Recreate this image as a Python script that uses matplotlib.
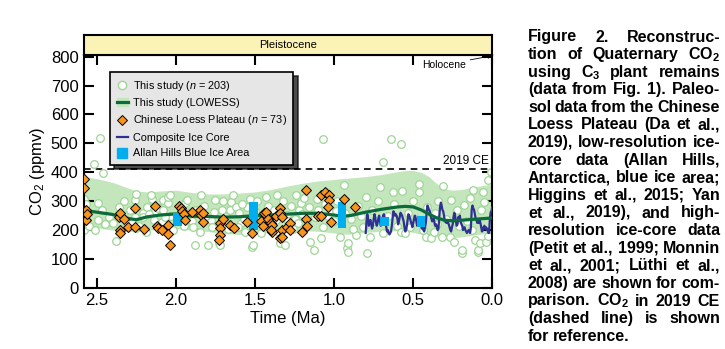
import matplotlib
matplotlib.use('Agg')
import matplotlib.pyplot as plt
from matplotlib.lines import Line2D
from matplotlib.patches import Patch

plt.rcParams['font.family'] = ['Liberation Sans', 'DejaVu Sans']
plt.rcParams['mathtext.fontset'] = 'custom'
plt.rcParams['mathtext.rm'] = 'Liberation Sans'
plt.rcParams['mathtext.it'] = 'Liberation Sans:italic'
plt.rcParams['mathtext.bf'] = 'Liberation Sans:bold'

# this study, C3 plant remains (age Ma, CO2 ppmv)
circ_age = [2.52, 2.48, 2.46, 2.58, 2.58, 2.57, 2.55, 2.49, 2.47, 2.45, 2.42, 2.40, 2.38, 2.51, 2.49,
            2.36, 2.33, 2.32, 2.31, 2.34,
            2.26, 2.25, 2.26, 2.21, 2.21, 2.18, 2.15, 2.14, 2.13, 2.11, 2.09, 2.08, 2.08, 2.05, 2.05,
            2.04, 2.03, 2.25, 2.28, 2.23, 2.19, 2.17, 2.12, 2.02, 2.16,
            1.97, 1.94, 1.92, 1.90, 1.89, 1.88, 1.85, 1.84, 1.82, 1.80, 1.78, 1.76, 1.75, 1.73, 1.72,
            1.71, 1.70, 1.95, 1.87, 1.93, 1.81, 1.77,
            1.68, 1.66, 1.65, 1.64, 1.62, 1.60, 1.59, 1.57, 1.55, 1.53, 1.52, 1.51, 1.50, 1.48, 1.46,
            1.45, 1.43, 1.42, 1.41, 1.67, 1.61, 1.56, 1.49, 1.44,
            1.38, 1.36, 1.35, 1.34, 1.31, 1.30, 1.29, 1.27, 1.25, 1.23, 1.22, 1.21, 1.20, 1.19, 1.17,
            1.15, 1.13, 1.11, 1.10, 1.37, 1.32, 1.26, 1.24, 1.16, 1.12,
            1.08, 1.07, 1.07, 1.06, 1.04, 1.02, 1.00, 0.98, 0.96, 0.94, 0.93, 0.92, 0.91, 0.91, 0.89,
            0.86, 0.85, 0.83, 0.80, 0.79, 0.82, 0.88, 1.05,
            0.76, 0.74, 0.72, 0.69, 0.69, 0.66, 0.64, 0.62, 0.60, 0.58, 0.58, 0.57, 0.55, 0.53, 0.50,
            0.48, 0.46, 0.46, 0.44, 0.42, 0.41, 0.71, 0.63, 0.52, 0.77,
            0.39, 0.37, 0.36, 0.34, 0.32, 0.31, 0.29, 0.27, 0.26, 0.24, 0.22, 0.19, 0.19, 0.18, 0.16,
            0.14, 0.12, 0.11, 0.09, 0.09, 0.08, 0.07, 0.06, 0.05, 0.04, 0.03, 0.03, 0.01, 0.13, 0.21,
            0.35, 0.99, 1.58, 2.29, 2.07]
circ_co2 = [430, 518, 398, 309, 200, 290, 215, 292, 269, 221, 246, 223, 163, 200, 234,
            280, 300, 240, 225, 205,
            303, 326, 246, 258, 246, 280, 306, 234, 265, 275, 229, 303, 269, 292, 313,
            321, 250, 206, 225, 215, 195, 255, 215, 200, 320,
            240, 292, 260, 230, 211, 148, 194, 321, 285, 148, 234, 262, 303, 154, 148,
            270, 300, 215, 268, 305, 250, 210,
            245, 269, 298, 321, 280, 260, 223, 240, 280, 309, 142, 148, 265, 230, 189,
            255, 313, 285, 240, 205, 210, 195, 300, 215,
            270, 321, 194, 154, 148, 252, 230, 285, 240, 223, 269, 292, 255, 310, 235,
            160, 131, 309, 270, 235, 300, 205, 320, 280, 245,
            171, 211, 514, 290, 250, 270, 230, 300, 177, 355, 260, 137, 154, 125, 240,
            183, 285, 250, 315, 122, 210, 205, 330,
            270, 230, 300, 436, 189, 250, 516, 290, 215, 499, 194, 336, 189, 260, 300,
            240, 361, 332, 200, 177, 280, 350, 330, 210, 175,
            171, 194, 260, 300, 177, 352, 240, 177, 303, 160, 270, 120, 131, 286, 230,
            310, 338, 165, 125, 131, 154, 270, 332, 298, 160, 179, 372, 401, 200, 215,
            220, 265, 290, 270, 245]

# Chinese Loess Plateau paleosols
clp_age = [2.58, 2.58, 2.57, 2.57, 2.56, 2.36, 2.35, 2.35, 2.35, 2.33, 2.30, 2.26, 2.26, 2.13, 2.12,
           2.11, 2.09, 2.05, 2.05, 2.04, 1.98, 1.97, 1.96, 1.95, 1.94, 1.85, 1.84, 1.83, 1.83, 1.72,
           1.72, 1.72, 1.73, 1.70, 1.66, 1.63, 1.52, 1.46, 1.44, 1.43, 1.42, 1.40, 1.39, 1.39, 1.40,
           1.37, 1.34, 1.34, 1.33, 1.33, 1.34, 1.33, 1.30, 1.28, 1.28, 1.20, 1.18, 1.18, 1.17, 1.10,
           1.08, 1.06, 1.03, 1.03, 1.04, 1.02, 1.08, 0.94, 0.87, 1.45, 1.55, 1.90, 2.20]
clp_co2 = [378, 344, 269, 234, 255, 246, 258, 200, 190, 240, 211, 211, 275, 283, 215,
           206, 200, 217, 186, 148, 285, 277, 265, 255, 234, 270, 252, 260, 229, 223,
           206, 183, 165, 240, 217, 206, 189, 230, 258, 263, 240, 223, 217, 194, 200,
           250, 275, 258, 245, 200, 171, 177, 210, 223, 200, 195, 338, 240, 214, 250,
           321, 330, 321, 303, 280, 229, 248, 306, 280, 215, 228, 262, 205]

# LOWESS fit and its envelope
fit_age = [2.58, 2.50, 2.40, 2.30, 2.25, 2.18, 2.10, 2.00, 1.90, 1.80, 1.70, 1.60, 1.50, 1.40,
           1.30, 1.20, 1.10, 1.00, 0.95, 0.90, 0.80, 0.70, 0.60, 0.55, 0.50, 0.45, 0.40, 0.35,
           0.30, 0.25, 0.20, 0.15, 0.10, 0.05, 0.00]
fit_co2 = [268, 262, 254, 240, 236, 246, 252, 256, 248, 247, 245, 246, 250, 252,
           255, 258, 258, 252, 248, 250, 262, 272, 280, 282, 280, 270, 255, 242,
           234, 232, 234, 236, 238, 240, 242]
fit_hi = [385, 378, 365, 345, 335, 332, 335, 338, 330, 325, 325, 328, 332, 340,
          352, 362, 370, 375, 378, 380, 385, 392, 402, 406, 406, 400, 385, 360,
          342, 338, 340, 345, 350, 355, 360]
fit_lo = [212, 208, 200, 194, 196, 200, 203, 205, 200, 195, 188, 185, 188, 192,
          196, 198, 196, 190, 186, 186, 192, 196, 198, 196, 192, 186, 180, 176,
          174, 174, 176, 180, 184, 188, 192]

# composite ice core (ka, ppmv)
ice_ka = list(range(0, 805, 5))
ice_co2 = [280, 265, 262, 240, 190, 190, 205, 200, 210, 205, 215, 210, 200, 195, 210, 225, 235,
           225, 230, 225, 235, 240, 255, 270, 275, 285, 270, 210, 190, 195, 200, 195, 190, 195,
           200, 210, 205, 200, 215, 220, 230, 250, 240, 245, 220, 215, 230, 250, 260, 245, 220,
           210, 195, 200, 210, 220, 225, 230, 225, 235, 230, 250, 265, 270, 285, 295, 280, 245,
           205, 200, 210, 220, 215, 225, 240, 235, 230, 240, 250, 265, 270, 280, 285, 260, 225,
           210, 195, 200, 210, 205, 215, 220, 225, 230, 220, 215, 230, 245, 250, 235, 225, 210,
           220, 230, 240, 250, 255, 235, 215, 200, 195, 210, 230, 240, 250, 255, 260, 245, 230,
           220, 240, 250, 255, 250, 260, 265, 240, 215, 195, 190, 185, 190, 200, 195, 210, 225,
           240, 255, 250, 235, 220, 215, 235, 250, 240, 225, 215, 225, 245, 255, 235, 215, 205,
           220, 235, 230, 215, 240, 255, 230, 190]
ice_age = [k / 1000 for k in ice_ka]

# Allan Hills blue ice area
ah_age = [1.99, 1.51, 0.95, 0.68, 0.45]
ah_lo = [215, 200, 206, 215, 211]
ah_hi = [258, 298, 298, 244, 248]

co2_2019 = 411
y_ticks = [0, 100, 200, 300, 400, 500, 600, 700, 800]
x_ticks = [2.5, 2.0, 1.5, 1.0, 0.5, 0.0]

caption = [
    'Figure 2. Reconstruc-',
    r'tion of Quaternary CO$_\mathbf{2}$',
    r'using C$_\mathbf{3}$ plant remains',
    '(data from Fig. 1). Paleo-',
    'sol data from the Chinese',
    'Loess Plateau (Da et al.,',
    '2019), low-resolution ice-',
    'core data (Allan Hills,',
    'Antarctica, blue ice area;',
    'Higgins et al., 2015; Yan',
    'et al., 2019), and high-',
    'resolution ice-core data',
    '(Petit et al., 1999; Monnin',
    'et al., 2001; Lüthi et al.,',
    '2008) are shown for com-',
    r'parison. CO$_\mathbf{2}$ in 2019 CE',
    '(dashed line) is shown',
    'for reference.',
]

fig = plt.figure(figsize=(7.25, 3.49), dpi=100)
ax = fig.add_axes([0.116, 0.175, 0.563, 0.667])
top = fig.add_axes([0.116, 0.842, 0.563, 0.057])

ax.fill_between(fit_age, fit_lo, fit_hi, color='#c4e6bc', lw=0, zorder=1)
ax.axhline(co2_2019, color='black', ls=(0, (4, 3)), lw=1.2, zorder=1.5)
ax.scatter(circ_age, circ_co2, s=30, facecolors='white', edgecolors='#9fd596', lw=0.9, zorder=2)
ax.plot(ice_age, ice_co2, color='#2e3192', lw=1.6, zorder=3)
ax.plot(fit_age, fit_co2, color='#0b6b3a', lw=2.3, zorder=4)
ax.bar(ah_age, [h - l for h, l in zip(ah_hi, ah_lo)], bottom=ah_lo, width=0.055,
       color='#00aeef', zorder=5)
ax.plot(clp_age, clp_co2, ls='none', marker='D', ms=5, mfc='#f7941d', mec='black',
        mew=0.7, zorder=6)

ax.set_xlim(2.58, 0)
ax.set_ylim(0, 805)
ax.set_xticks(x_ticks)
ax.set_xticklabels(['%.1f' % t for t in x_ticks])
ax.set_yticks(y_ticks)
ax.tick_params(direction='in', length=7, width=1.5, labelsize=12, top=True, right=True,
               pad=4)
for s in ax.spines.values():
    s.set_linewidth(1.5)
ax.set_xlabel('Time (Ma)', fontsize=12, labelpad=2)
ax.set_ylabel(r'CO$_2$ (ppmv)', fontsize=12, labelpad=3)

ax.text(0.02, 438, '2019 CE', ha='right', va='center', fontsize=8.5)
ax.annotate('Holocene', xy=(0.0, 803), xytext=(0.165, 772), ha='right', va='center',
            fontsize=7.5, arrowprops=dict(arrowstyle='-|>', color='black', lw=0.6,
                                          mutation_scale=6, shrinkA=1, shrinkB=0))

handles = [
    Line2D([], [], ls='none', marker='o', mfc='white', mec='#9fd596', ms=6, mew=1),
    (Patch(color='#c4e6bc'), Line2D([], [], color='#0b6b3a', lw=2.3)),
    Line2D([], [], ls='none', marker='D', ms=5, mfc='#f7941d', mec='black', mew=0.7),
    Line2D([], [], color='#2e3192', lw=1.6),
    Line2D([], [], ls='none', marker='s', ms=7, color='#00aeef'),
]
labels = [r'This study ($n$ = 203)', 'This study (LOWESS)',
          r'Chinese Loess Plateau ($n$ = 73)', 'Composite Ice Core',
          'Allan Hills Blue Ice Area']
leg = ax.legend(handles, labels, loc='upper left', bbox_to_anchor=(0.064, 0.927),
                borderaxespad=0, fontsize=7.8, handlelength=1.0, handletextpad=0.5,
                labelspacing=0.5, borderpad=0.6, fancybox=False, framealpha=1,
                facecolor='#e6e6e6', edgecolor='black',
                shadow={'color': 'black', 'alpha': 0.7, 'ox': 3, 'oy': -3})
leg.get_frame().set_linewidth(1.2)

top.set_facecolor('#fbf3b5')
top.set_xticks([])
top.set_yticks([])
for s in top.spines.values():
    s.set_linewidth(1.5)
top.text(0.5, 0.5, 'Pleistocene', ha='center', va='center', fontsize=8,
         transform=top.transAxes)

# justified caption
renderer = fig.canvas.get_renderer()
x0, x1 = 528, 720
y_first, dy = 37, 17.6
for i, line in enumerate(caption):
    words = line.split(' ')
    y = 1 - (y_first + i * dy) / 349
    texts = [fig.text(0, y, w, fontsize=11.5, fontweight='bold', va='center') for w in words]
    widths = [t.get_window_extent(renderer).width for t in texts]
    if i == len(caption) - 1 or len(words) == 1:
        gap = 3.5
    else:
        gap = (x1 - x0 - sum(widths)) / (len(words) - 1)
    x = x0
    for t, w in zip(texts, widths):
        t.set_x(x / 725)
        x += w + gap

fig.savefig('out.png', dpi=100)
